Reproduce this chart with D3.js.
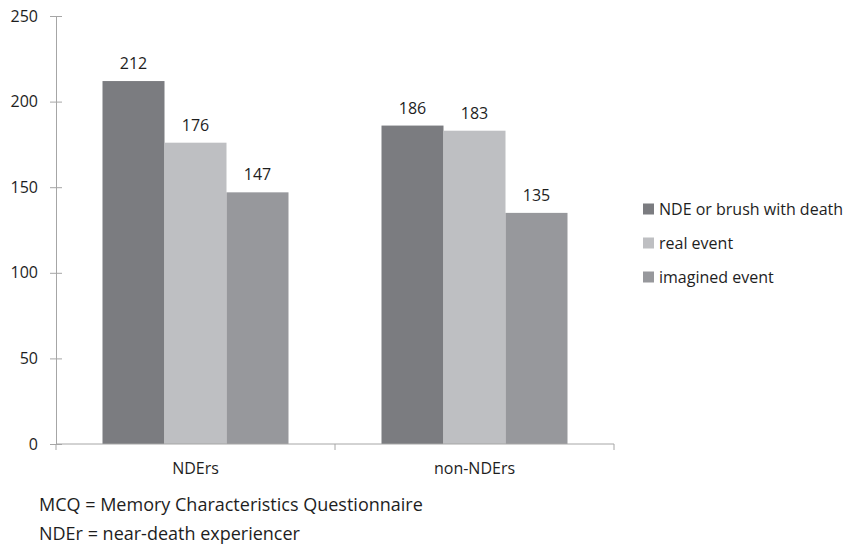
<!DOCTYPE html>
<html>
<head>
<meta charset="utf-8">
<script src="https://cdn.jsdelivr.net/npm/d3@7"></script>
<style>
  html, body { margin: 0; padding: 0; background: #fff; }
  svg { display: block; font-family: "Open Sans", "Noto Sans", sans-serif; }
</style>
</head>
<body>
<svg id="chart" width="845" height="545"></svg>
<script>
// Memory Characteristics Questionnaire totals by group
const groups = ["NDErs", "non-NDErs"];
const seriesNames = ["NDE or brush with death", "real event", "imagined event"];
const seriesColors = ["#7b7c80", "#bebfc2", "#97989c"];
const ndeValues = [212, 186];
const realValues = [176, 183];
const imaginedValues = [147, 135];
const yTicks = [0, 50, 100, 150, 200, 250];
const notes = ["MCQ = Memory Characteristics Questionnaire", "NDEr = near-death experiencer"];

const seriesValues = [ndeValues, realValues, imaginedValues];

const svg = d3.select("#chart");
const plot = { left: 56, right: 614, top: 16, bottom: 444 };
const axisColor = "#a6a6a6";
const textColor = "#1e1e1e";
const fontSize = 16;

const x = d3.scaleBand().domain(groups).range([plot.left, plot.right]).paddingInner(0).paddingOuter(0);
const xInner = d3.scaleBand().domain(seriesNames)
  .range([0, x.bandwidth()]).paddingOuter(0.75).paddingInner(0);
const y = d3.scaleLinear().domain([0, 250]).range([plot.bottom, plot.top]);

// bars
groups.forEach((g, gi) => {
  seriesNames.forEach((s, si) => {
    const v = seriesValues[si][gi];
    svg.append("rect")
      .attr("x", x(g) + xInner(s))
      .attr("y", y(v))
      .attr("width", xInner.bandwidth())
      .attr("height", y(0) - y(v))
      .attr("fill", seriesColors[si]);
    svg.append("text")
      .attr("x", x(g) + xInner(s) + xInner.bandwidth() / 2)
      .attr("y", y(v) - 12)
      .attr("text-anchor", "middle")
      .attr("font-size", fontSize)
      .attr("fill", textColor)
      .text(v);
  });
});

// y axis
const yAxis = svg.append("g").attr("transform", `translate(${plot.left},0)`)
  .call(d3.axisLeft(y).tickValues(yTicks).tickSize(6).tickPadding(12));
yAxis.select(".domain").attr("stroke", axisColor);
yAxis.selectAll(".tick line").attr("stroke", axisColor).attr("x1", 6).attr("x2", -6);
yAxis.selectAll(".tick text").attr("font-size", fontSize).attr("fill", textColor)
  .attr("font-family", "'Open Sans', sans-serif");

// x axis with separators between categories
const xAxisG = svg.append("g").attr("transform", `translate(0,${plot.bottom})`);
xAxisG.append("line").attr("x1", plot.left).attr("x2", plot.right)
  .attr("stroke", axisColor);
const sepPositions = [plot.left].concat(groups.map(g => x(g) + x.bandwidth()));
sepPositions.forEach(px => {
  xAxisG.append("line").attr("x1", px).attr("x2", px).attr("y1", 0).attr("y2", 6)
    .attr("stroke", axisColor);
});
groups.forEach(g => {
  xAxisG.append("text")
    .attr("x", x(g) + x.bandwidth() / 2)
    .attr("y", 24.5)
    .attr("dy", "0.35em")
    .attr("text-anchor", "middle")
    .attr("font-size", fontSize)
    .attr("fill", textColor)
    .text(g);
});

// legend
const legend = svg.append("g").attr("transform", "translate(643,209)");
seriesNames.forEach((s, i) => {
  const row = legend.append("g").attr("transform", `translate(0,${i * 34})`);
  row.append("rect").attr("x", 0).attr("y", -5.5).attr("width", 11).attr("height", 11)
    .attr("fill", seriesColors[i]);
  row.append("text").attr("x", 16).attr("y", 0).attr("dy", "0.35em")
    .attr("font-size", fontSize).attr("fill", textColor).text(s);
});

// notes
notes.forEach((n, i) => {
  svg.append("text").attr("x", 39).attr("y", 504.5 + i * 29).attr("dy", "0.35em")
    .attr("font-size", 18).attr("fill", textColor).text(n);
});
</script>
</body>
</html>
